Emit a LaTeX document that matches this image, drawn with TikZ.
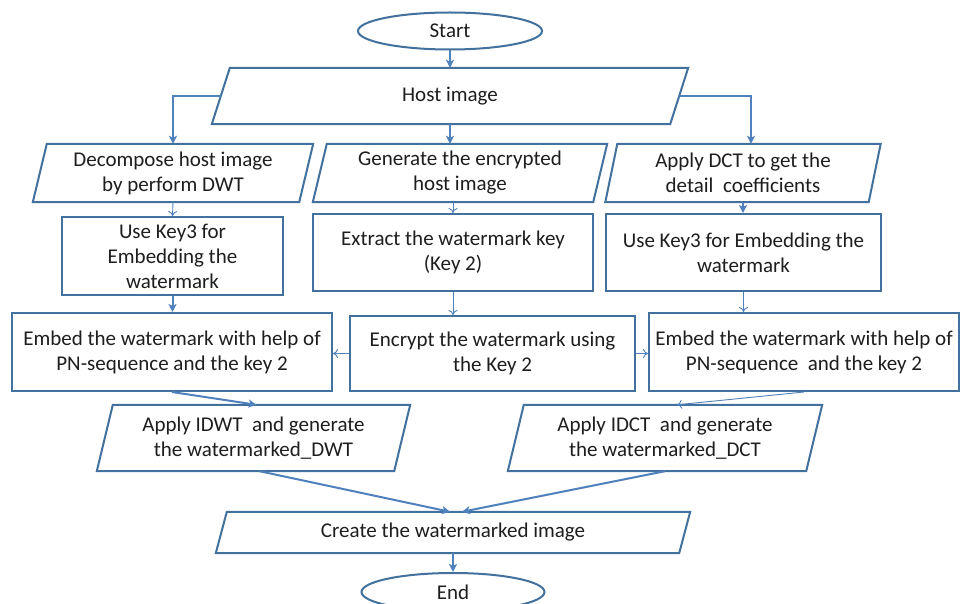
\documentclass[tikz,border=0pt]{standalone}
\usepackage{fontspec}
\setmainfont{Carlito}
\usetikzlibrary{shapes.geometric,arrows.meta}
\definecolor{boxblue}{RGB}{65,113,156}
\definecolor{arrblue}{RGB}{79,129,189}
\definecolor{txt}{RGB}{30,30,30}
\newcommand\drawpara[2]{\draw[boxline] ([xshift=#2]#1.north west) -- ([xshift=#2]#1.north east) -- ([xshift=-#2]#1.south east) -- ([xshift=-#2]#1.south west) -- cycle;}
\begin{document}
\begin{tikzpicture}[x=1pt,y=-1pt,
  every node/.style={font=\fontsize{21}{25}\selectfont, text=txt, align=center, inner sep=0pt},
  boxline/.style={draw=boxblue, line width=2pt, line join=miter},
  rectbox/.style={rectangle, boxline, fill=white},
  parabox/.style={rectangle},
  term/.style={ellipse, boxline, fill=white},
  thick arrow/.style={draw=arrblue, line width=2pt, -{Stealth[length=8pt,width=8pt,inset=2pt]}},
  thin arrow/.style={draw=arrblue, line width=0.9pt, -{To[length=5pt,width=9pt]}}]
\useasboundingbox (0,0) rectangle (961,604);
\fill[white] (0,0) rectangle (961,604);
% terminals
\node[term, minimum width=184pt, minimum height=37pt] (start) at (450,31) {Start};
\node[term, minimum width=183pt, minimum height=38pt] (end) at (453,592) {End};
% parallelograms (text nodes sized to the midline)
\node[parabox, minimum width=458pt, minimum height=56pt] (host) at (450,96) {Host image};
\node[parabox, minimum width=266pt, minimum height=58pt] (L2) at (173,173) {Decompose host image\\by perform DWT};
\node[parabox, minimum width=280pt, minimum height=58pt] (M2) at (460,173) {Generate the encrypted\\host image};
\node[parabox, minimum width=263pt, minimum height=58pt] (R2) at (743,173) {Apply DCT to get the\\detail~~coefficients};
\node[parabox, minimum width=297pt, minimum height=66pt] (L5) at (253.5,438) {Apply IDWT~~and generate\\the watermarked\_DWT};
\node[parabox, minimum width=298pt, minimum height=66pt] (R5) at (665,438) {Apply IDCT~~and generate\\the watermarked\_DCT};
\node[parabox, minimum width=463pt, minimum height=41pt] (C6) at (453,532.5) {Create the watermarked image};
\drawpara{host}{9pt}
\drawpara{L2}{7pt}
\drawpara{M2}{7pt}
\drawpara{R2}{6pt}
\drawpara{L5}{8pt}
\drawpara{R5}{8pt}
\drawpara{C6}{5.5pt}
% rectangles
\node[rectbox, minimum width=221pt, minimum height=78pt] (L3) at (172.5,256) {Use Key3 for\\Embedding the\\watermark};
\node[rectbox, minimum width=280pt, minimum height=77pt] (M3) at (453,252.5) {Extract the watermark key\\(Key 2)};
\node[rectbox, minimum width=275pt, minimum height=77pt] (R3) at (743.5,252.5) {Use Key3 for Embedding the\\watermark};
\node[rectbox, minimum width=320pt, minimum height=78pt] (L4) at (172,352) {Embed the watermark with help of\\PN-sequence and the key 2};
\node[rectbox, minimum width=285pt, minimum height=75pt] (M4) at (492.5,353.5) {Encrypt the watermark using\\the Key 2};
\node[rectbox, minimum width=310pt, minimum height=78pt] (R4) at (804,352) {Embed the watermark with help of\\PN-sequence~~and the key 2};
% connectors
\draw[thick arrow] (start.south) -- (host.north);
\draw[thick arrow] (host.west) -| (L2.north);
\draw[thick arrow] (host.south) -- (host.south |- M2.north);
\draw[thick arrow] (host.east) -| ([xshift=8pt]R2.north);
\draw[thin arrow] (L2.south) -- (L3.north);
\draw[thin arrow] (M3.north |- M2.south) -- (M3.north);
\draw[thick arrow] (R2.south) -- (R2.south |- R3.north);
\draw[thick arrow] (L3.south) -- (L3.south |- L4.north);
\draw[thin arrow] (M3.south) -- (M3.south |- M4.north);
\draw[thin arrow] (R3.south) -- (R3.south |- R4.north);
\draw[thin arrow] (M4.west) -- (L4.east |- M4.west);
\draw[thin arrow] (M4.east) -- (R4.west |- M4.east);
\draw[thick arrow] (L4.south) -- ([xshift=3pt]L5.north);
\draw[thin arrow] (R4.south) -- ([xshift=12pt]R5.north);
\draw[thick arrow] ([xshift=6pt]L5.south) -- ([xshift=-3pt]C6.north);
\draw[thick arrow] (R5.south) -- ([xshift=9pt]C6.north);
\draw[thick arrow] (C6.south) -- (end.north);
\end{tikzpicture}
\end{document}
